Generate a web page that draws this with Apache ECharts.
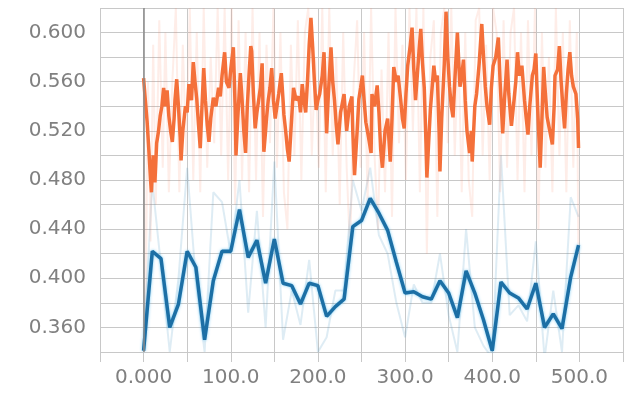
<!DOCTYPE html>
<html>
<head>
<meta charset="utf-8">
<script src="https://cdn.jsdelivr.net/npm/echarts@6/dist/echarts.min.js"></script>
<style>
  html, body { margin: 0; padding: 0; background: #fff; }
  #chart { width: 629px; height: 394px; }
</style>
</head>
<body>
<div id="chart"></div>
<script>
// orange run, smoothed (step / value)
const orangeSteps = [0, 2, 4, 6, 8, 9, 11, 13, 15, 17, 19, 21, 23, 25, 27, 29, 31, 33, 35, 36, 38, 40, 42, 43, 45, 48, 50, 52, 55, 57, 59, 61, 63, 65, 67, 69, 71, 73, 75, 77, 80, 83, 86, 88, 90, 93, 95, 98, 100, 103, 105, 106, 108, 111, 113, 115, 117, 119, 121, 123, 124, 126, 128, 130, 132, 134, 136, 138, 140, 141, 143, 145, 147, 149, 151, 153, 155, 158, 160, 161, 163, 165, 167, 169, 172, 175, 178, 180, 182, 184, 186, 188, 190, 192, 194, 196, 198, 200, 202, 205, 207, 209, 210, 212, 215, 217, 219, 221, 223, 226, 230, 233, 236, 239, 240, 242, 245, 247, 249, 251, 253, 255, 258, 261, 262, 265, 268, 270, 272, 274, 277, 280, 283, 285, 287, 290, 292, 295, 297, 299, 301, 303, 306, 308, 310, 312, 314, 316, 318, 320, 322, 324, 325, 327, 329, 331, 333, 335, 337, 339, 340, 342, 344, 345, 347, 349, 351, 353, 355, 357, 360, 362, 363, 365, 367, 369, 371, 374, 376, 377, 380, 382, 385, 388, 390, 392, 394, 397, 399, 401, 404, 407, 409, 412, 414, 417, 419, 422, 425, 427, 429, 431, 434, 437, 439, 441, 443, 446, 448, 450, 452, 455, 457, 459, 461, 463, 466, 469, 471, 472, 475, 477, 479, 481, 483, 485, 487, 489, 491, 493, 496, 498, 499];
const orangeSmooth = [0.563, 0.545, 0.528, 0.505, 0.480, 0.470, 0.500, 0.478, 0.510, 0.519, 0.532, 0.540, 0.555, 0.540, 0.553, 0.532, 0.520, 0.511, 0.530, 0.545, 0.562, 0.540, 0.515, 0.496, 0.520, 0.540, 0.535, 0.558, 0.545, 0.576, 0.560, 0.546, 0.525, 0.506, 0.540, 0.571, 0.545, 0.525, 0.511, 0.530, 0.547, 0.540, 0.555, 0.548, 0.565, 0.584, 0.560, 0.555, 0.570, 0.588, 0.540, 0.500, 0.530, 0.567, 0.545, 0.520, 0.502, 0.540, 0.566, 0.589, 0.585, 0.550, 0.522, 0.535, 0.545, 0.555, 0.575, 0.503, 0.520, 0.530, 0.545, 0.555, 0.571, 0.545, 0.530, 0.540, 0.550, 0.567, 0.545, 0.533, 0.520, 0.505, 0.495, 0.520, 0.555, 0.545, 0.548, 0.535, 0.558, 0.545, 0.535, 0.560, 0.590, 0.612, 0.588, 0.560, 0.537, 0.545, 0.550, 0.565, 0.584, 0.540, 0.518, 0.550, 0.588, 0.560, 0.545, 0.525, 0.509, 0.535, 0.550, 0.520, 0.540, 0.548, 0.520, 0.484, 0.520, 0.546, 0.555, 0.565, 0.545, 0.527, 0.515, 0.502, 0.550, 0.540, 0.557, 0.535, 0.505, 0.490, 0.520, 0.530, 0.495, 0.530, 0.572, 0.560, 0.565, 0.545, 0.530, 0.522, 0.550, 0.573, 0.590, 0.604, 0.570, 0.545, 0.565, 0.585, 0.603, 0.575, 0.555, 0.510, 0.482, 0.510, 0.537, 0.555, 0.573, 0.560, 0.565, 0.520, 0.487, 0.530, 0.560, 0.575, 0.617, 0.580, 0.556, 0.540, 0.531, 0.560, 0.600, 0.570, 0.556, 0.565, 0.578, 0.545, 0.520, 0.502, 0.520, 0.495, 0.540, 0.550, 0.575, 0.607, 0.580, 0.556, 0.540, 0.525, 0.555, 0.573, 0.580, 0.596, 0.560, 0.518, 0.545, 0.578, 0.550, 0.524, 0.545, 0.560, 0.584, 0.565, 0.573, 0.545, 0.530, 0.517, 0.540, 0.565, 0.570, 0.583, 0.540, 0.490, 0.530, 0.572, 0.550, 0.531, 0.520, 0.509, 0.540, 0.565, 0.570, 0.589, 0.560, 0.540, 0.522, 0.550, 0.570, 0.584, 0.565, 0.556, 0.550, 0.530, 0.506];

// orange run, raw (faint)
const orangeRawSteps = [0, 2, 5, 8, 11, 14, 18, 22, 25, 29, 33, 37, 41, 45, 49, 53, 57, 61, 65, 69, 73, 77, 81, 85, 89, 93, 97, 101, 105, 109, 113, 117, 121, 125, 129, 133, 137, 141, 145, 149, 153, 157, 161, 165, 169, 173, 177, 181, 185, 189, 193, 197, 201, 205, 209, 213, 217, 221, 225, 229, 233, 237, 241, 245, 249, 253, 257, 261, 265, 269, 273, 277, 281, 285, 289, 293, 297, 301, 305, 309, 313, 317, 321, 325, 329, 333, 337, 341, 345, 349, 353, 357, 361, 365, 369, 373, 377, 381, 385, 389, 393, 397, 401, 405, 409, 413, 417, 421, 425, 429, 433, 437, 441, 445, 449, 453, 457, 461, 465, 469, 473, 477, 481, 485, 489, 493, 497, 499];
const orangeRaw = [0.560, 0.345, 0.560, 0.430, 0.590, 0.460, 0.610, 0.490, 0.600, 0.470, 0.560, 0.620, 0.470, 0.590, 0.500, 0.620, 0.480, 0.600, 0.470, 0.620, 0.490, 0.580, 0.510, 0.620, 0.500, 0.620, 0.480, 0.620, 0.460, 0.610, 0.480, 0.600, 0.470, 0.620, 0.480, 0.600, 0.450, 0.590, 0.510, 0.620, 0.490, 0.600, 0.470, 0.440, 0.590, 0.500, 0.610, 0.480, 0.600, 0.620, 0.500, 0.580, 0.490, 0.620, 0.470, 0.620, 0.500, 0.580, 0.460, 0.600, 0.490, 0.420, 0.560, 0.610, 0.490, 0.600, 0.460, 0.620, 0.500, 0.440, 0.570, 0.470, 0.600, 0.450, 0.620, 0.510, 0.590, 0.480, 0.620, 0.520, 0.620, 0.470, 0.620, 0.420, 0.580, 0.610, 0.450, 0.600, 0.620, 0.510, 0.620, 0.500, 0.590, 0.470, 0.600, 0.480, 0.450, 0.610, 0.620, 0.500, 0.590, 0.480, 0.620, 0.600, 0.470, 0.610, 0.490, 0.600, 0.620, 0.480, 0.600, 0.470, 0.610, 0.500, 0.620, 0.440, 0.600, 0.490, 0.580, 0.470, 0.620, 0.500, 0.600, 0.470, 0.610, 0.490, 0.600, 0.400];

// blue run, smoothed and raw, logged every 10 steps
const blueSteps = [0, 10, 20, 30, 40, 50, 60, 70, 80, 90, 100, 110, 120, 130, 140, 150, 160, 170, 180, 190, 200, 210, 220, 230, 240, 250, 260, 270, 280, 290, 300, 310, 320, 330, 340, 350, 360, 370, 380, 390, 400, 410, 420, 430, 440, 450, 460, 470, 480, 490, 499];
const blueSmooth = [0.341, 0.422, 0.416, 0.360, 0.379, 0.422, 0.409, 0.350, 0.398, 0.422, 0.422, 0.456, 0.417, 0.431, 0.396, 0.432, 0.396, 0.394, 0.379, 0.396, 0.394, 0.369, 0.377, 0.383, 0.442, 0.447, 0.465, 0.453, 0.439, 0.413, 0.388, 0.389, 0.385, 0.383, 0.398, 0.388, 0.368, 0.406, 0.388, 0.366, 0.341, 0.397, 0.388, 0.384, 0.375, 0.396, 0.360, 0.371, 0.359, 0.401, 0.427];
const blueRaw = [0.341, 0.478, 0.410, 0.340, 0.400, 0.490, 0.398, 0.340, 0.470, 0.462, 0.420, 0.480, 0.372, 0.455, 0.360, 0.495, 0.350, 0.390, 0.362, 0.415, 0.340, 0.352, 0.390, 0.390, 0.480, 0.455, 0.490, 0.435, 0.420, 0.380, 0.352, 0.395, 0.380, 0.380, 0.420, 0.370, 0.340, 0.440, 0.360, 0.345, 0.335, 0.500, 0.370, 0.378, 0.365, 0.430, 0.335, 0.390, 0.340, 0.466, 0.450];

const pair = (xs, ys) => xs.map((x, i) => [x, ys[i]]);

const labelStyle = {
  color: '#808080',
  fontSize: 20,
  fontFamily: 'DejaVu Sans',
};

const chart = echarts.init(document.getElementById('chart'), null, { renderer: 'canvas' });
chart.setOption({
  animation: false,
  backgroundColor: '#fff',
  grid: { left: 100, right: 6, top: 8, bottom: 42 },
  xAxis: {
    type: 'value',
    min: -50,
    max: 550,
    interval: 50,
    axisLine: { show: false },
    axisTick: { show: true, length: 10, lineStyle: { color: '#c8c8c8' } },
    splitLine: { show: true, lineStyle: { color: '#c8c8c8', width: 1 } },
    axisLabel: {
      ...labelStyle,
      margin: 16,
      showMinLabel: true,
      showMaxLabel: true,
      formatter: (v) => {
        if (v < 0 || v > 500 || v % 100 !== 0) return '';
        return v === 0 ? '0.000' : v.toFixed(1);
      },
    },
  },
  yAxis: {
    type: 'value',
    min: 0.34,
    max: 0.62,
    interval: 0.02,
    axisLine: { show: false },
    axisTick: { show: true, length: 5, lineStyle: { color: '#c8c8c8' } },
    splitLine: { show: true, lineStyle: { color: '#c8c8c8', width: 1 } },
    axisLabel: {
      ...labelStyle,
      margin: 14,
      formatter: (v) => (Math.round(v * 1000) % 40 === 0 ? v.toFixed(3) : ''),
    },
  },
  series: [
    {
      name: 'blue raw',
      type: 'line',
      data: pair(blueSteps, blueRaw),
      showSymbol: false,
      lineStyle: { color: 'rgba(60,140,190,0.17)', width: 2 },
      clip: true,
      z: 1,
      markLine: {
        silent: true,
        symbol: 'none',
        label: { show: false },
        lineStyle: { color: '#8a8a8a', type: 'solid', width: 1.5 },
        data: [{ xAxis: 0 }],
      },
    },
    {
      name: 'orange raw',
      type: 'line',
      data: pair(orangeRawSteps, orangeRaw),
      showSymbol: false,
      lineStyle: { color: 'rgba(245,130,90,0.14)', width: 2 },
      clip: true,
      z: 2,
    },
    {
      name: 'blue',
      type: 'line',
      data: pair(blueSteps, blueSmooth),
      showSymbol: false,
      lineStyle: {
        color: '#1c6fa5',
        width: 3.5,
        shadowColor: 'rgba(90,190,240,0.8)',
        shadowBlur: 3,
      },
      clip: true,
      z: 3,
    },
    {
      name: 'orange',
      type: 'line',
      data: pair(orangeSteps, orangeSmooth),
      showSymbol: false,
      lineStyle: { color: '#f4703a', width: 3.5 },
      clip: true,
      z: 4,
    },
  ],
});
</script>
</body>
</html>
